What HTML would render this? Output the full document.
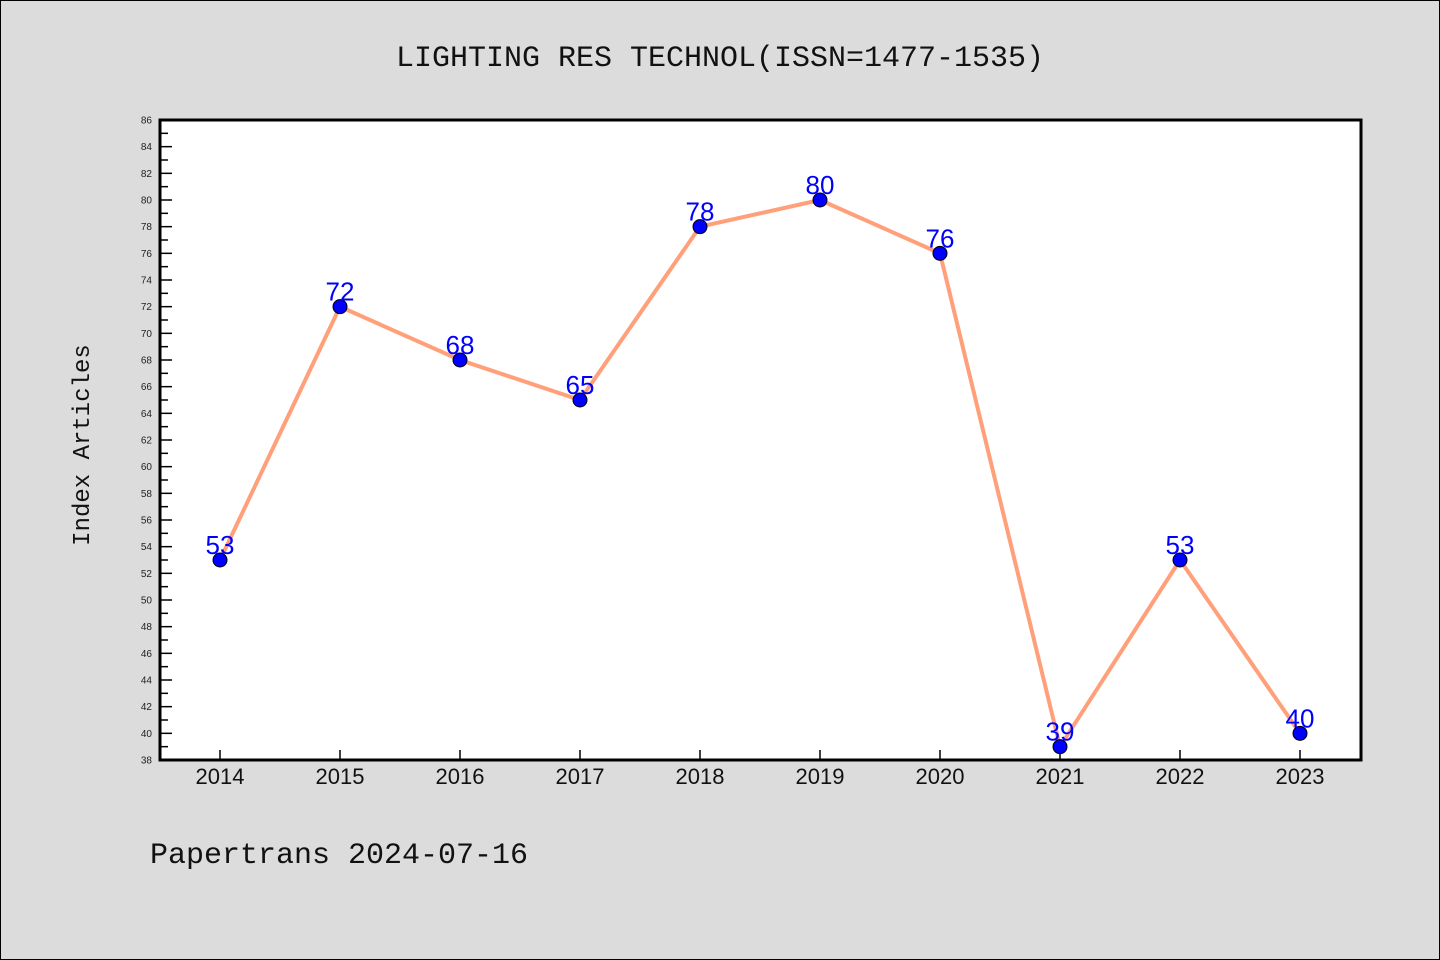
<!DOCTYPE html>
<html><head><meta charset="utf-8"><style>
html,body{margin:0;padding:0;background:#dcdcdc;}
svg{display:block;font-family:"Liberation Sans","DejaVu Sans",sans-serif;}
</style></head><body>
<svg id="chart" width="1440" height="960">
<rect x="0.5" y="0.5" width="1439" height="959" fill="#dcdcdc" stroke="#000"/>
<text x="720" y="66" text-anchor="middle" font-size="30" fill="#111" font-family="Liberation Mono, monospace">LIGHTING RES TECHNOL(ISSN=1477-1535)</text>
<rect x="160" y="120" width="1201" height="640" fill="#fff" stroke="#000" stroke-width="3"/>
<text transform="translate(89,445) rotate(-90)" text-anchor="middle" font-size="24" fill="#111" font-family="Liberation Mono, monospace">Index Articles</text>
<text x="150" y="863" font-size="30" fill="#111" font-family="Liberation Mono, monospace">Papertrans 2024-07-16</text>
<g id="ticks"></g><g id="series"></g>
</svg>
<script>
const years = ["2014","2015","2016","2017","2018","2019","2020","2021","2022","2023"];
const values = [53,72,68,65,78,80,76,39,53,40];
const yTicks = [38,40,42,44,46,48,50,52,54,56,58,60,62,64,66,68,70,72,74,76,78,80,82,84,86];
const NS="http://www.w3.org/2000/svg";
const yMin=38,yMax=86,plotTop=120,plotBot=760;
function y(v){return plotBot-(v-yMin)/(yMax-yMin)*(plotBot-plotTop);}
function x(i){return 220+i*120;}
function mk(t,a,p){const e=document.createElementNS(NS,t);for(const k in a)e.setAttribute(k,a[k]);p.appendChild(e);return e;}
const tg=document.getElementById('ticks'), sg=document.getElementById('series');
yTicks.forEach(v=>{
  const l=mk('line',{x1:160,x2:172,y1:y(v),y2:y(v),stroke:'#000','stroke-width':1.5},tg);
  
  
  if(v+1<yMax){
    const m=mk('line',{x1:160,x2:168,y1:y(v+1),y2:y(v+1),stroke:'#000','stroke-width':1.5},tg);
    
    
  }
  const t=mk('text',{x:152,y:y(v)+3.5,'text-anchor':'end','font-size':10,fill:'#222'},tg);
  t.textContent=v;
  
  
});
years.forEach((yr,i)=>{
  const l=mk('line',{x1:x(i),x2:x(i),y1:plotBot,y2:plotBot-10,stroke:'#000','stroke-width':1.5},tg);
  
  
  const t=mk('text',{x:x(i),y:784,'text-anchor':'middle','font-size':22,fill:'#111'},tg);
  t.textContent=yr;
  
  
});
const pl=mk('polyline',{points:values.map((v,i)=>x(i)+','+y(v)).join(' '),fill:'none',stroke:'#ffa07a','stroke-width':4},sg);


values.forEach((v,i)=>{
  const c=mk('circle',{cx:x(i),cy:y(v),r:7,fill:'#0000ff',stroke:'#000','stroke-width':1},sg);
  
  
});
values.forEach((v,i)=>{
  const t=mk('text',{x:x(i),y:y(v)-6,'text-anchor':'middle','font-size':26,fill:'#0000ff'},sg);
  t.textContent=v;
  
  
});
</script>
</body></html>
